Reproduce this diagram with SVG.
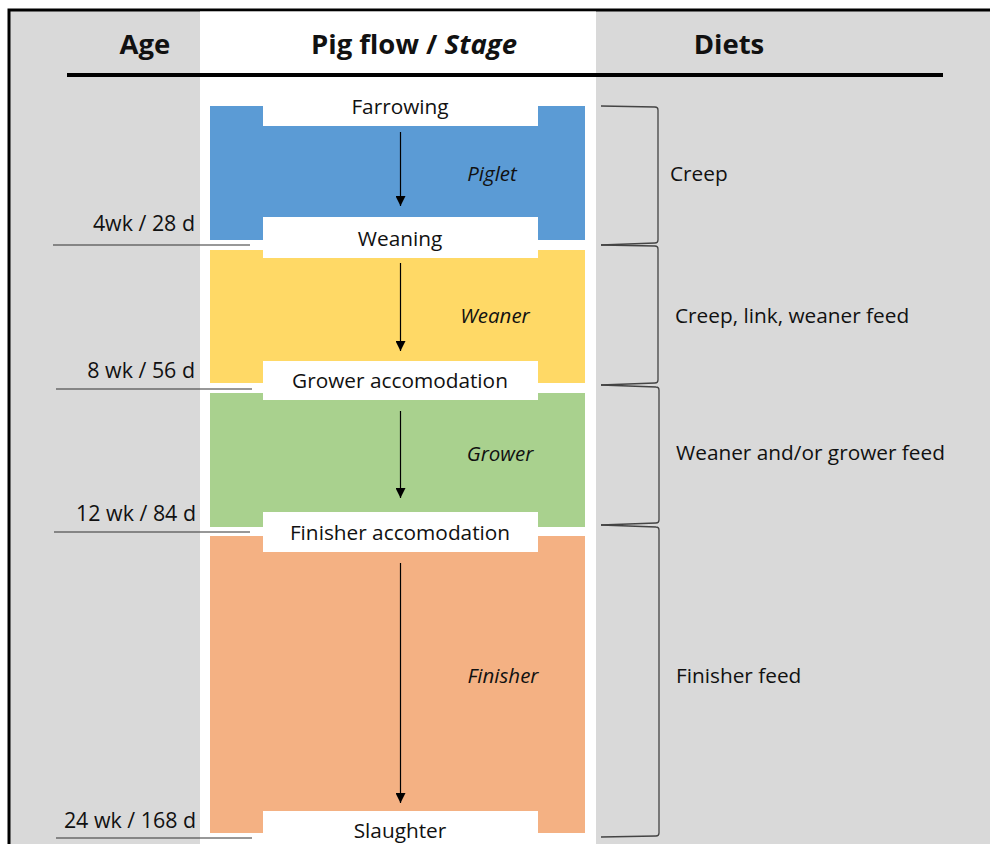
<svg xmlns="http://www.w3.org/2000/svg" width="990" height="844" viewBox="0 0 990 844">
<defs>
<style>
text{font-family:"Open Sans","Noto Sans","Liberation Sans",sans-serif;fill:#111;}
.h{font-size:27.5px;font-weight:bold;text-anchor:middle;}
.lbl{font-size:20.8px;text-anchor:middle;dominant-baseline:central;}
.stg{font-size:20.5px;font-style:italic;text-anchor:middle;dominant-baseline:central;}
.age{font-size:21.4px;text-anchor:end;}
.diet{font-size:20.8px;dominant-baseline:central;}
.tick{stroke:#333;stroke-width:1.2;}
.br{fill:none;stroke:#444;stroke-width:1.3;}
.arr{stroke:#000;stroke-width:1.2;marker-end:url(#ah);}
</style>
<marker id="ah" viewBox="0 0 10 10" refX="10" refY="5" markerWidth="10" markerHeight="10" markerUnits="userSpaceOnUse" orient="auto">
<path d="M0,0 L10,5 L0,10 z" fill="#000"/>
</marker>
</defs>
<rect x="0" y="0" width="990" height="844" fill="#fff"/>
<rect x="9" y="10" width="990" height="850" fill="#d9d9d9" stroke="#000" stroke-width="3"/>
<rect x="200" y="11.5" width="396" height="840" fill="#fff"/>
<line x1="67" y1="75" x2="943" y2="75" stroke="#000" stroke-width="4"/>
<g id="headers">
<text class="h" x="414" y="54">Pig flow / <tspan font-style="italic">Stage</tspan></text>
<text class="h" x="145" y="54">Age</text>
<text class="h" x="729" y="54">Diets</text>
</g>
<g id="piglet">
<polygon points="210,106 263,106 263,126 538,126 538,106 585,106 585,240 538,240 538,217 263,217 263,240 210,240" fill="#5b9bd5"/>
<text class="stg" x="492" y="173">Piglet</text>
</g>
<g id="weaner">
<polygon points="210,250 263,250 263,258 538,258 538,250 585,250 585,383 538,383 538,361 263,361 263,383 210,383" fill="#ffd966"/>
<text class="stg" x="495" y="315">Weaner</text>
</g>
<g id="grower">
<polygon points="210,393 263,393 263,400 538,400 538,393 585,393 585,527 538,527 538,512 263,512 263,527 210,527" fill="#a9d18e"/>
<text class="stg" x="500" y="453">Grower</text>
</g>
<g id="finisher">
<polygon points="210,536 263,536 263,552 538,552 538,536 585,536 585,833 538,833 538,811 263,811 263,833 210,833" fill="#f4b183"/>
<text class="stg" x="503" y="675">Finisher</text>
</g>
<g id="events">
<text class="lbl" x="400" y="106">Farrowing</text>
<text class="lbl" x="400" y="238">Weaning</text>
<text class="lbl" x="400" y="380">Grower accomodation</text>
<text class="lbl" x="400" y="532">Finisher accomodation</text>
<text class="lbl" x="400" y="830">Slaughter</text>
</g>
<g id="connectors">
<line class="arr" x1="400.5" y1="132" x2="400.5" y2="206"/>
<line class="arr" x1="400.5" y1="263" x2="400.5" y2="351"/>
<line class="arr" x1="400.5" y1="411" x2="400.5" y2="498"/>
<line class="arr" x1="400.5" y1="563" x2="400.5" y2="803"/>
</g>
<g id="ages">
<line class="tick" x1="53" y1="245" x2="250" y2="245"/>
<text class="age" x="195" y="231">4wk / 28 d</text>
<line class="tick" x1="56" y1="389" x2="252" y2="389"/>
<text class="age" x="195" y="378">8 wk / 56 d</text>
<line class="tick" x1="54" y1="532" x2="250" y2="532"/>
<text class="age" x="196" y="521">12 wk / 84 d</text>
<line class="tick" x1="56" y1="838" x2="252" y2="838"/>
<text class="age" x="196" y="828">24 wk / 168 d</text>
</g>
<g id="diets">
<path class="br" d="M601,106 L655,107 Q658,107 658,110 L658,240 Q658,243 655,243 L601,245"/>
<path class="br" d="M601,245 L655,246 Q658,246 658,249 L658,380 Q658,383 655,383 L601,385"/>
<path class="br" d="M601,385 L656,387 Q659,387 659,390 L659,520 Q659,523 656,523 L601,525"/>
<path class="br" d="M601,525 L656,527 Q659,527 659,530 L659,833 Q659,836 656,836 L601,837"/>
<text class="diet" x="670" y="173">Creep</text>
<text class="diet" x="675" y="315">Creep, link, weaner feed</text>
<text class="diet" x="676" y="452">Weaner and/or grower feed</text>
<text class="diet" x="676" y="675">Finisher feed</text>
</g>
</svg>
